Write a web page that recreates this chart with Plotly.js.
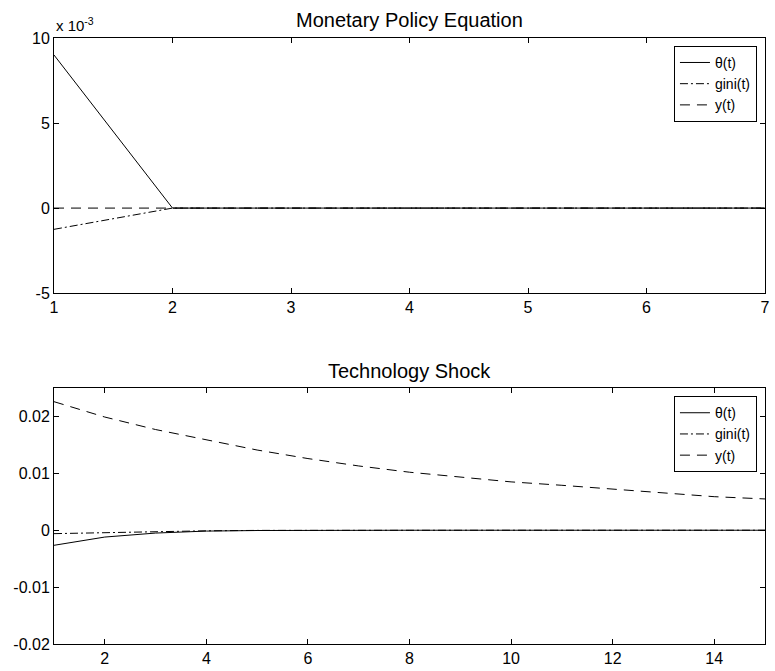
<!DOCTYPE html>
<html>
<head>
<meta charset="utf-8">
<script src="https://cdn.plot.ly/plotly-3.0.1.min.js"></script>
<style>html,body{margin:0;padding:0;background:#fff;}#chart{width:775px;height:671px;}</style>
</head>
<body>
<div id="chart"></div>
<script>
// Top panel: Monetary Policy Equation
var tTop = [1, 2, 3, 4, 5, 6, 7];
var thetaTop = [0.0090, 0, 0, 0, 0, 0, 0];
var giniTop = [-0.00125, 0, 0, 0, 0, 0, 0];
var yTop = [0, 0, 0, 0, 0, 0, 0];
var topYTickVals = [-0.005, 0, 0.005, 0.01];
var topYTickText = ['-5', '0', '5', '10'];
var topXTicks = [1, 2, 3, 4, 5, 6, 7];

// Bottom panel: Technology Shock
var tBot = [1, 2, 3, 4, 5, 6, 7, 8, 9, 10, 11, 12, 13, 14, 15];
var thetaBot = [-0.00265, -0.0012, -0.0005, -0.00015, -0.00005, 0, 0, 0, 0, 0, 0, 0, 0, 0, 0];
var giniBot = [-0.0006, -0.0004, -0.0002, -0.0001, -0.00003, 0, 0, 0, 0, 0, 0, 0, 0, 0, 0];
var yBot = [0.0226, 0.0199, 0.0177, 0.0159, 0.0141, 0.0126, 0.0113, 0.0102, 0.0093, 0.0085, 0.0079, 0.0072, 0.0065, 0.0059, 0.0055];
var botYTicks = [-0.02, -0.01, 0, 0.01, 0.02];
var botYTickText = ['-0.02', '-0.01', '0', '0.01', '0.02'];
var botXTicks = [2, 4, 6, 8, 10, 12, 14];

var names = ['θ(t)', 'gini(t)', 'y(t)'];
var dashes = ['solid', '8px,3px,2px,3px', '10px,7px'];
var FONT = 'Liberation Sans, Arial, Helvetica, sans-serif';

function mk(x, y, i, xa, ya, lg) {
  return {x: x, y: y, type: 'scatter', mode: 'lines', name: names[i],
    xaxis: xa, yaxis: ya, legend: lg,
    line: {color: '#000', width: 1, dash: dashes[i]}};
}

var data = [
  mk(tTop, thetaTop, 0, 'x', 'y', 'legend'),
  mk(tTop, giniTop, 1, 'x', 'y', 'legend'),
  mk(tTop, yTop, 2, 'x', 'y', 'legend'),
  mk(tBot, thetaBot, 0, 'x2', 'y2', 'legend2'),
  mk(tBot, giniBot, 1, 'x2', 'y2', 'legend2'),
  mk(tBot, yBot, 2, 'x2', 'y2', 'legend2')
];

var axBase = {showgrid: false, zeroline: false, showline: true, linecolor: '#000', linewidth: 1,
  mirror: 'ticks', ticks: 'inside', ticklen: 5, tickcolor: '#000', tickwidth: 1,
  tickfont: {family: FONT, size: 16, color: '#000'}};
function ax(o) { return Object.assign({}, axBase, o); }

var legBase = {bordercolor: '#000', borderwidth: 1, bgcolor: '#fff',
  font: {family: FONT, size: 14, color: '#000'},
  xanchor: 'right', yanchor: 'top', tracegroupgap: 0, itemwidth: 30};

var layout = {
  width: 775, height: 671,
  margin: {l: 54, r: 10, t: 38, b: 27},
  paper_bgcolor: '#fff', plot_bgcolor: '#fff',
  showlegend: true,
  xaxis: ax({domain: [0, 1], range: [1, 7], tickmode: 'array', tickvals: topXTicks, anchor: 'y'}),
  yaxis: ax({domain: [0.579, 1], range: [-0.005, 0.01], tickmode: 'array', tickvals: topYTickVals, ticktext: topYTickText, anchor: 'x'}),
  xaxis2: ax({domain: [0, 1], range: [1, 15], tickmode: 'array', tickvals: botXTicks, anchor: 'y2'}),
  yaxis2: ax({domain: [0, 0.4224], range: [-0.02, 0.025], tickmode: 'array', tickvals: botYTicks, ticktext: botYTickText, anchor: 'x2'}),
  legend: Object.assign({}, legBase, {x: 0.9887, y: 0.987}),
  legend2: Object.assign({}, legBase, {x: 0.9887, y: 0.409}),
  annotations: [
    {text: 'Monetary Policy Equation', xref: 'paper', yref: 'paper', x: 0.5, y: 1, yshift: 18,
      xanchor: 'center', yanchor: 'middle', showarrow: false,
      font: {family: FONT, size: 20, color: '#000'}},
    {text: 'Technology Shock', xref: 'paper', yref: 'paper', x: 0.5, y: 0.4224, yshift: 17,
      xanchor: 'center', yanchor: 'middle', showarrow: false,
      font: {family: FONT, size: 20, color: '#000'}},
    {text: 'x 10<sup>-3</sup>', xref: 'paper', yref: 'paper', x: 0, y: 1, yshift: 2,
      xanchor: 'left', yanchor: 'bottom', showarrow: false,
      font: {family: FONT, size: 15, color: '#000'}}
  ]
};

Plotly.newPlot('chart', data, layout, {displayModeBar: false, staticPlot: true});
</script>
</body>
</html>
